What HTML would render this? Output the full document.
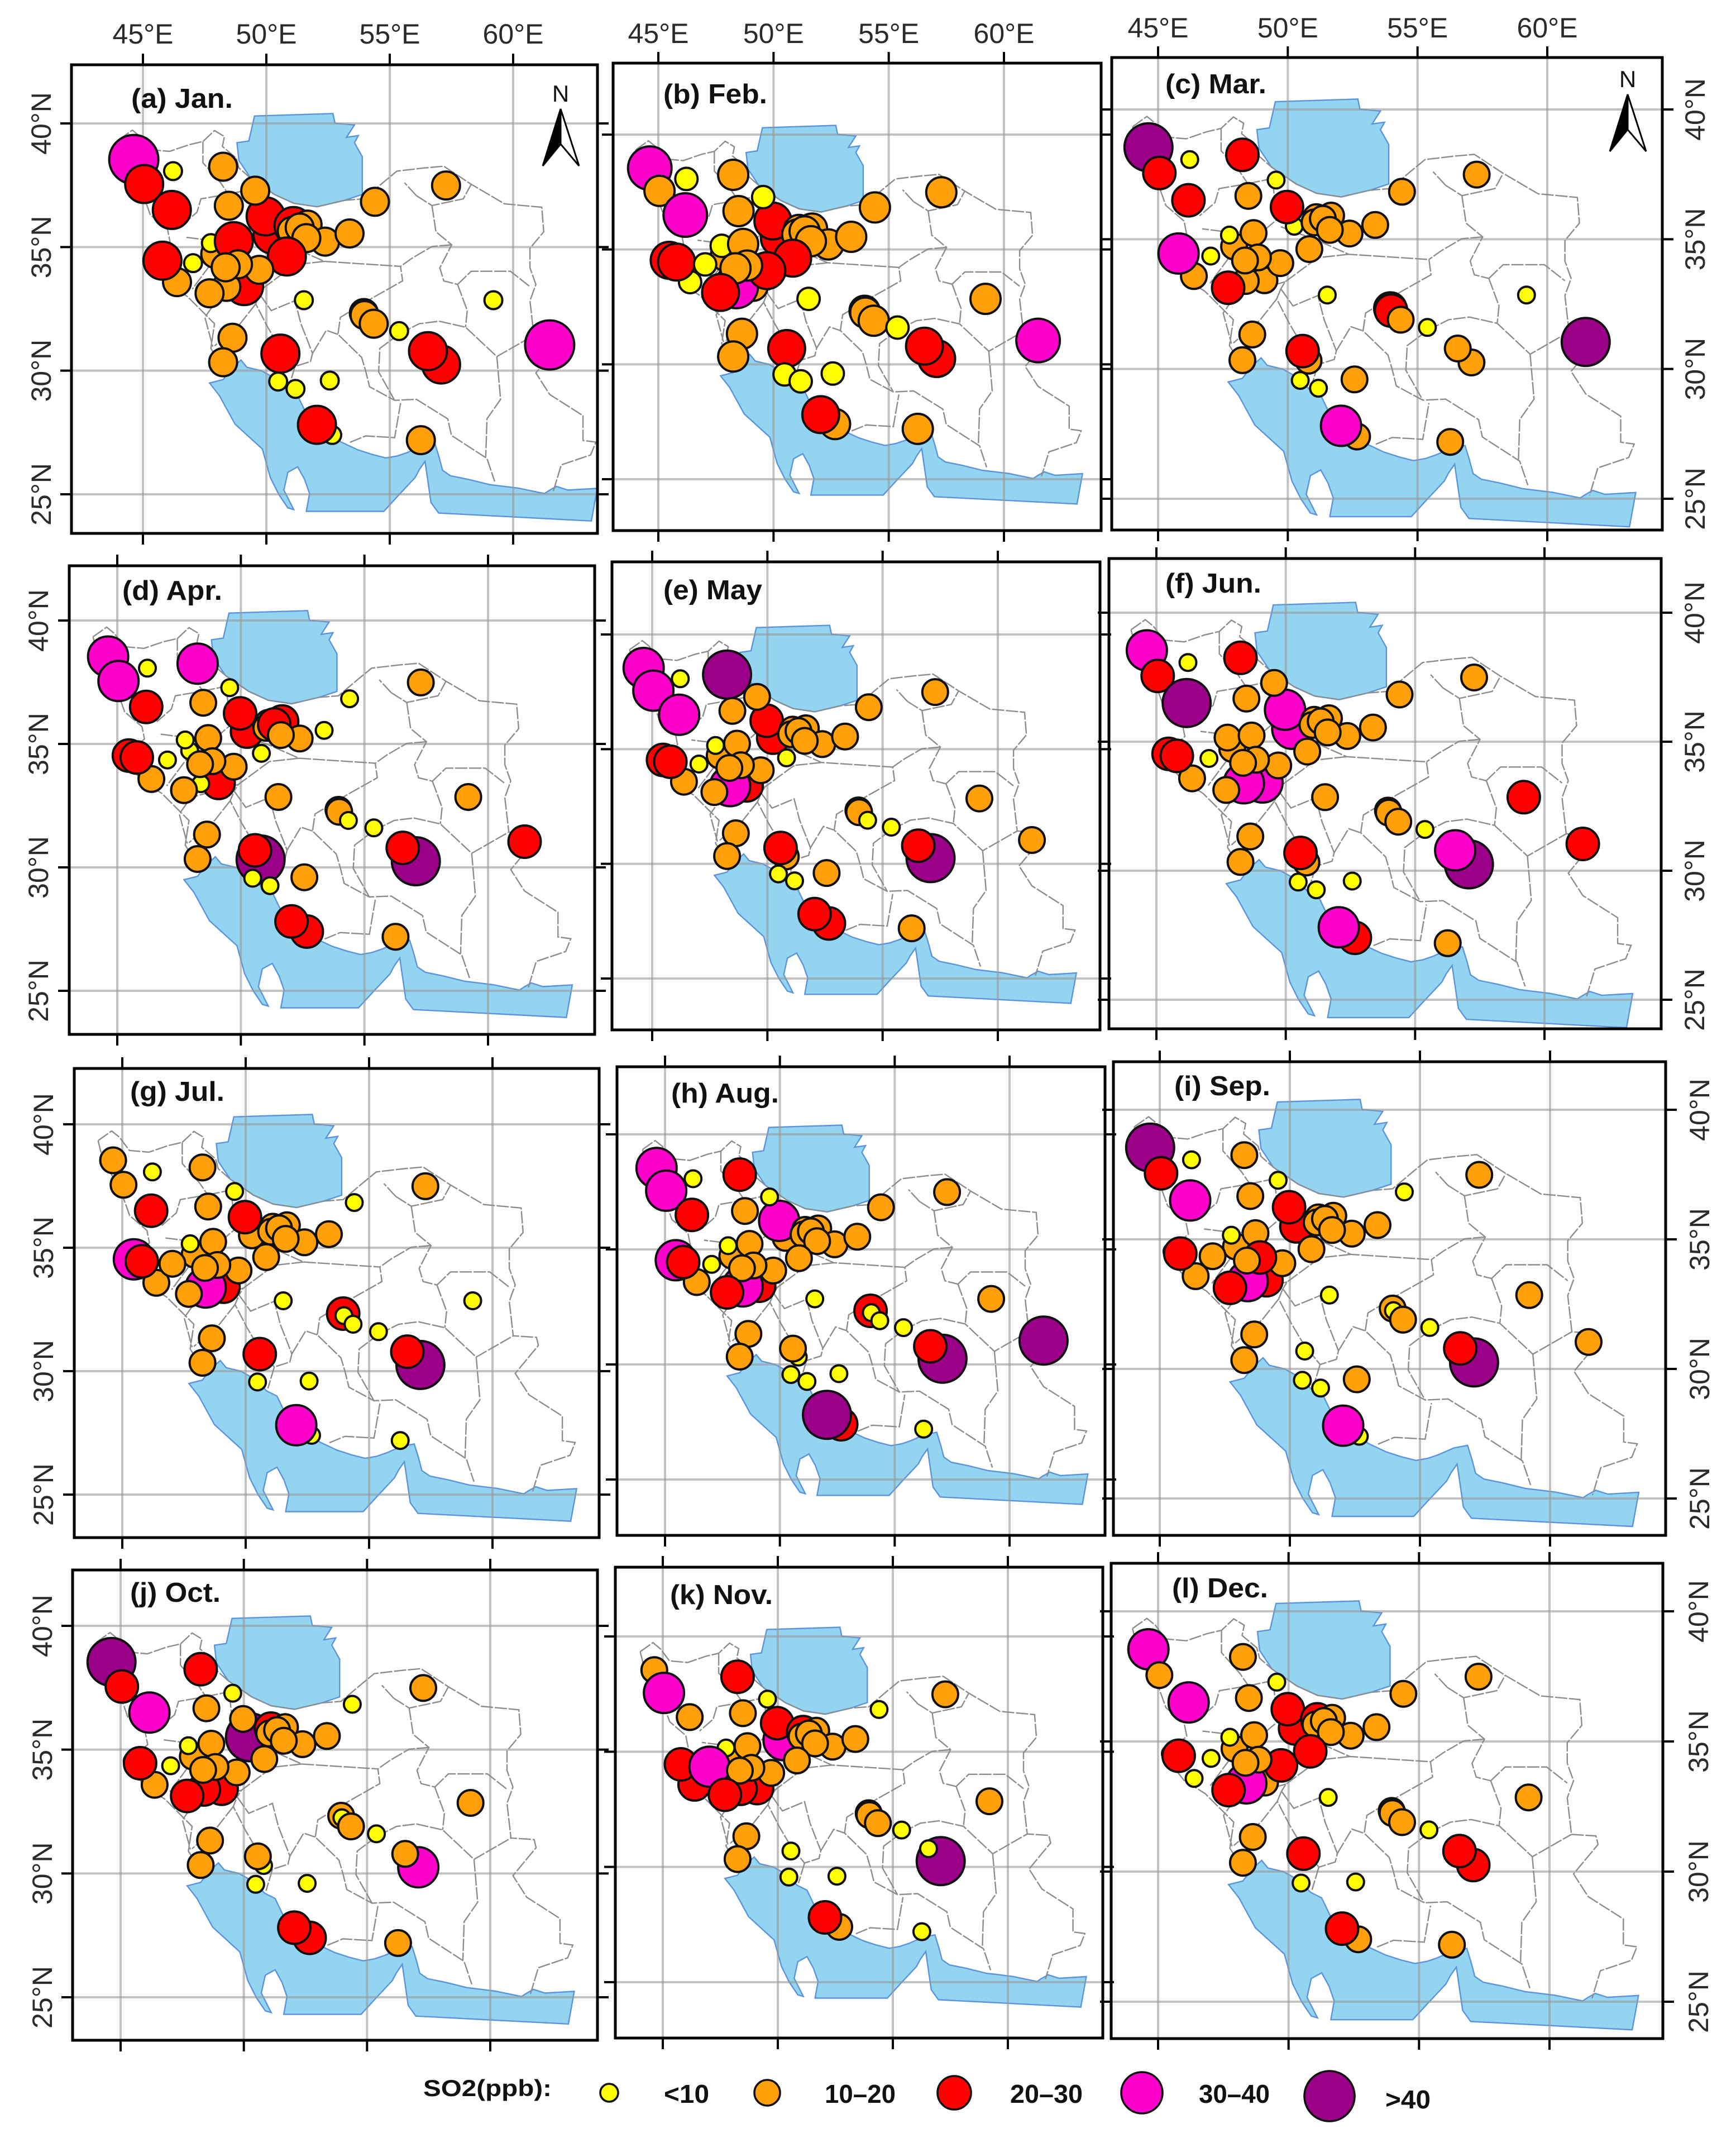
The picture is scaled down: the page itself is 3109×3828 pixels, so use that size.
<!DOCTYPE html>
<html lang="en">
<head>
<meta charset="utf-8">
<title>Monthly SO2 concentrations over Iran</title>
<style>
html,body{margin:0;padding:0;background:#fff}
svg{display:block}
text{font-family:"Liberation Sans",sans-serif}
</style>
</head>
<body>
<svg id="figure" xmlns="http://www.w3.org/2000/svg" width="3109" height="3828" viewBox="0 0 3109 3828">
<rect x="0" y="0" width="3109" height="3828" fill="#ffffff"/>
<g id="panels"></g>
<g id="legend"></g>
</svg>
<script>
// ---- chart data ----
const lonTicks = [45, 50, 55, 60];
const latTicks = [40, 35, 30, 25];
const lonTickLabels = ['45°E', '50°E', '55°E', '60°E'];
const latTickLabels = ['40°N', '35°N', '30°N', '25°N'];
const panelTitles = ['(a) Jan.', '(b) Feb.', '(c) Mar.', '(d) Apr.', '(e) May', '(f) Jun.', '(g) Jul.', '(h) Aug.', '(i) Sep.', '(j) Oct.', '(k) Nov.', '(l) Dec.'];
const legendLabels = ['<10', '10–20', '20–30', '30–40', '>40'];
const classUpperBounds = [10, 20, 30, 40, Infinity];

const stationLon = [44.63,45.05,46.22,48.25,46.17,48.48,50.25,49.97,49.55,51.1,
 51.67,51.03,51.35,52.38,51.62,53.37,54.4,57.28,47.93,47.75,
 48.68,50.83,45.47,46.38,45.79,47.03,49.1,48.38,49.71,48.85,
 48.35,47.7,51.52,59.2,53.95,53.98,54.35,55.38,61.48,48.63,
 48.25,50.8,50.57,57.08,56.55,50.48,51.18,52.57,52.67,52.05,
 56.26];
const stationLat = [38.54,37.55,38.07,38.25,36.5,36.67,35.5,36.24,37.28,35.85,
 35.91,35.65,35.79,35.22,35.36,35.55,36.83,37.49,34.72,35.16,
 35.24,34.62,34.53,33.58,34.45,34.35,33.42,33.39,34.08,34.3,
 34.18,33.13,32.85,32.85,32.33,32.25,31.9,31.6,31.04,31.33,
 30.34,30.32,30.69,30.25,30.79,29.56,29.26,29.6,27.4,27.81,
 27.19];

// SO2 (ppb) class mid-points per station
const janSO2 = [35,25,5,15,25,15,25,25,15,25, 15,15,15,15,15,15,15,15,15,5, 25,25,5,15,25,5,25,15,15,15, 15,15,5,5,15,15,15,5,35,15, 15,null,25,25,25,5,5,5,5,25, 15];
const febSO2 = [35,15,5,15,35,15,25,25,5,15, 15,15,15,15,15,15,15,15,15,5, 15,25,25,5,25,5,15,35,25,15, 15,25,5,15,15,15,15,5,35,15, 15,null,25,25,25,5,5,5,15,25, 15];
const marSO2 = [45,25,5,25,25,15,5,25,5,15, 15,15,15,15,15,15,15,15,15,5, 15,15,5,15,35,5,15,15,15,15, 15,25,5,5,25,25,15,5,45,15, 15,15,25,15,15,5,5,15,15,35, 15];
const aprSO2 = [35,35,5,35,25,15,25,25,5,15, 25,15,25,15,15,5,5,15,5,5, 15,5,25,15,25,5,25,5,15,15, 15,15,15,15,15,15,5,5,25,15, 15,45,25,45,25,5,5,15,25,25, 15];
const maySO2 = [35,35,5,45,35,15,25,25,15,15, 15,15,15,15,15,15,15,15,15,5, 15,5,25,15,25,5,25,35,15,15, 15,15,null,15,15,15,5,5,15,15, 15,15,25,45,25,5,5,15,25,25, 15];
const junSO2 = [35,25,5,25,45,15,35,35,15,15, 15,15,15,15,15,15,15,15,15,15, 15,15,25,15,25,5,35,35,15,15, 15,15,15,25,15,15,15,5,25,15, 15,15,25,45,35,5,5,5,25,35, 15];
const julSO2 = [15,15,5,15,25,15,15,25,5,15, 15,15,15,15,15,15,5,15,15,5, 15,15,35,15,25,15,25,35,15,15, 15,15,5,5,25,5,5,5,null,15, 15,null,25,45,25,5,null,5,5,35, 5];
const augSO2 = [35,35,5,25,25,15,15,35,5,15, 15,15,15,15,15,15,15,15,15,5, 15,15,35,15,25,5,25,35,15,15, 15,25,5,15,25,5,5,5,45,15, 15,5,15,45,25,5,5,5,25,45, 5];
const sepSO2 = [45,25,5,15,35,15,25,25,5,15, 15,15,15,15,15,15,5,15,15,5, 15,15,5,15,25,15,25,35,15,25, 15,25,5,15,15,5,15,5,15,15, 15,null,5,45,25,5,5,15,5,35, null];
const octSO2 = [45,25,null,25,35,15,45,15,5,25, 15,15,15,15,15,15,5,15,15,5, 15,15,5,15,25,5,25,25,15,15, 15,25,null,15,15,5,15,5,null,15, 15,5,15,35,15,5,null,5,25,25, 15];
const novSO2 = [15,35,null,25,15,15,35,25,5,25, 15,15,15,15,15,15,5,15,15,5, 15,15,5,25,25,35,25,25,15,15, 15,25,null,15,15,15,15,5,null,15, 15,null,5,45,5,5,null,5,15,25, 5];
const decSO2 = [35,15,null,15,35,15,25,25,5,25, 15,15,15,15,15,15,15,15,15,5, 15,25,5,5,25,5,15,35,25,15, 15,25,5,15,15,15,15,5,null,15, 15,null,25,25,25,5,null,5,15,25, 15];
const monthlySO2 = [janSO2, febSO2, marSO2, aprSO2, maySO2, junSO2, julSO2, augSO2, sepSO2, octSO2, novSO2, decSO2];

// ---- base map geography (lon, lat) ----
const seaSouthGeo = [[47.7,29.5],[48.25,29.64],[48.6,30.1],[48.97,30.43],[49.21,30.14],[49.8,30.0],[50.32,29.71],[50.85,29.2],[51.27,28.99],[51.6,28.3],[51.9,27.84],[52.5,27.5],[53.02,27.12],[53.7,26.8],[54.29,26.61],[54.84,26.47],[55.3,26.55],[55.71,26.69],[56.3,26.95],[56.83,27.05],[57.0,26.5],[57.14,25.97],[57.46,25.75],[58.2,25.6],[59.05,25.39],[60.2,25.25],[61.27,25.03],[61.45,25.15],[61.75,25.32],[62.22,25.17],[63.41,25.24],[63.17,23.92],[56.98,24.24],[56.67,24.67],[56.43,26.33],[56.2,26.0],[56.03,25.68],[55.3,24.9],[54.76,24.31],[51.62,24.31],[51.75,25.03],[51.55,25.6],[51.27,26.11],[50.87,25.89],[50.71,25.17],[51.11,24.38],[50.87,24.45],[50.5,25.0],[50.16,25.68],[49.84,26.83],[48.73,27.84],[48.1,28.99]];
const caspianGeo = [[49.52,40.3],[52.7,40.4],[52.78,40.01],[53.57,39.94],[53.25,39.44],[53.73,39.51],[53.57,39.22],[53.89,38.65],[53.89,37.13],[53.17,36.89],[52.06,36.63],[51.11,36.77],[50.32,37.13],[49.37,37.78],[48.89,38.5],[48.81,39.22],[49.29,39.29]];
const iranOutlineGeo = [[44.02,39.34],[44.57,39.73],[44.89,39.47],[45.29,38.94],[46.08,38.87],[46.87,39.14],[47.43,39.27],[47.9,39.71],[48.3,39.47],[48.22,39.07],[48.78,38.6],[48.89,38.2],[49.37,37.78],[50.32,37.13],[51.11,36.77],[52.06,36.63],[53.17,36.89],[53.95,36.95],[54.73,37.61],[55.29,38.07],[56.4,38.2],[57.19,38.27],[58.3,37.54],[59.65,36.75],[61.16,36.61],[61.24,35.62],[60.68,34.95],[60.68,34.16],[60.92,33.49],[60.68,32.83],[60.84,31.43],[61.78,31.37],[61.86,31.04],[60.92,29.91],[61.48,29.04],[62.83,28.18],[62.83,27.18],[63.35,27.11],[63.14,26.59],[61.95,26.19],[61.63,25.13]];
const iranWestGeo = [[44.02,39.34],[44.2,38.6],[44.6,37.9],[45.05,37.0],[45.3,36.3],[46.0,35.7],[46.1,35.2],[45.5,34.7],[45.6,34.0],[46.0,33.5],[46.8,33.0],[47.4,32.4],[47.9,31.9],[47.75,30.9],[48.0,30.5],[48.6,30.1]];
const provinceLinesGeo = [
 [[47.43,39.27],[47.43,38.41],[48.14,37.61],[48.46,37.14],[47.35,36.95],[47.19,36.41],[46.6,35.9]],
 [[48.46,37.14],[49.41,37.34],[49.57,35.75],[48.94,35.22],[47.51,35.3],[46.7,35.4]],
 [[49.73,35.48],[51.16,34.95],[52.35,34.42],[55.44,34.22],[55.52,33.63],[54.33,32.96],[53.0,32.16],[52.9,31.47],[53.86,30.54],[54.02,30.0],[54.18,29.35],[55.2,28.8],[56.08,28.84],[57.35,28.05],[57.5,27.38],[58.94,26.45],[59.25,25.52]],
 [[57.75,33.49],[58.3,34.02],[59.89,34.02],[60.68,33.4]],
 [[55.4,31.5],[56.2,31.9],[57.0,32.0],[58.07,31.76],[59.34,30.57],[60.84,31.43]],
 [[57.75,33.49],[58.14,32.43],[58.07,31.76]],
 [[59.34,30.57],[59.49,28.84],[58.94,28.05],[58.89,26.5]],
 [[56.08,37.08],[56.71,36.68],[57.98,36.95],[58.3,37.54]],
 [[56.08,37.08],[55.6,37.6]],
 [[56.71,36.68],[56.87,35.62],[57.51,35.09],[57.03,34.16],[57.19,33.63],[57.75,33.49]],
 [[57.51,35.09],[56.71,35.02],[55.92,34.56],[55.44,34.22]],
 [[49.73,33.09],[50.2,32.43],[51.16,32.83],[51.4,31.9],[51.87,30.7],[51.79,30.37],[51.16,30.17],[50.52,30.97],[50.05,31.77],[49.57,32.7],[49.73,33.09]],
 [[51.87,30.7],[52.43,31.63],[52.9,31.47]],
 [[55.4,31.5],[54.6,30.9],[54.55,29.95],[55.2,28.8]],
 [[53.39,27.1],[54.02,27.36],[55.2,27.29],[55.44,28.69]],
 [[51.16,34.29],[49.9,33.36],[49.73,33.09]],
 [[52.35,34.42],[51.16,34.29]],
 [[47.51,35.3],[47.83,34.42],[47.0,33.3]],
 [[49.9,33.36],[47.98,32.83],[47.51,32.16],[47.83,30.97]],
 [[49.57,32.7],[48.94,31.9],[47.9,31.0]],
 [[51.16,30.17],[50.9,29.3]]
];

// ---- layout (pixels) ----
const panelFrames = [
 {x0:128,x1:1070,y0:116,y1:955,lon45:256,lon60:919,lat40:221,lat25:885,top:78,left:91,right:0,tx:235,ty:193,tlen:182,arrow:[1004,195]},
 {x0:1098,x1:1972,y0:113,y1:950,lon45:1179,lon60:1798,lat40:241,lat25:858,top:77,left:0,right:0,tx:1188,ty:185,tlen:186},
 {x0:1991,x1:2977,y0:103,y1:949,lon45:2074,lon60:2771,lat40:196,lat25:893,top:67,left:0,right:3053,tx:2087,ty:167,tlen:181,arrow:[2915,169]},
 {x0:124,x1:1065,y0:1013,y1:1852,lon45:210,lon60:874,lat40:1111,lat25:1774,top:0,left:86,right:0,tx:219,ty:1074,tlen:179},
 {x0:1096,x1:1970,y0:1006,y1:1844,lon45:1168,lon60:1787,lat40:1136,lat25:1752,top:0,left:0,right:0,tx:1188,ty:1073,tlen:177},
 {x0:1986,x1:2975,y0:1000,y1:1842,lon45:2071,lon60:2766,lat40:1097,lat25:1790,top:0,left:0,right:3052,tx:2087,ty:1061,tlen:172},
 {x0:133,x1:1073,y0:1913,y1:2753,lon45:219,lon60:882,lat40:2013,lat25:2676,top:0,left:95,right:0,tx:233,ty:1971,tlen:169},
 {x0:1105,x1:1979,y0:1910,y1:2749,lon45:1191,lon60:1808,lat40:2031,lat25:2649,top:0,left:0,right:0,tx:1202,ty:1974,tlen:193},
 {x0:1994,x1:2983,y0:1901,y1:2749,lon45:2077,lon60:2776,lat40:1987,lat25:2683,top:0,left:0,right:3061,tx:2103,ty:1961,tlen:172},
 {x0:130,x1:1070,y0:2811,y1:3653,lon45:216,lon60:878,lat40:2911,lat25:3576,top:0,left:93,right:0,tx:233,ty:2868,tlen:162},
 {x0:1102,x1:1975,y0:2806,y1:3649,lon45:1187,lon60:1805,lat40:2930,lat25:3549,top:0,left:0,right:0,tx:1200,ty:2872,tlen:184},
 {x0:1990,x1:2978,y0:2799,y1:3650,lon45:2074,lon60:2775,lat40:2885,lat25:3584,top:0,left:0,right:3059,tx:2099,ty:2860,tlen:172}
];
const classColors = ['#ffff00', '#ff9f0a', '#ff0000', '#ff00cc', '#9b0088'];
const radiiJan = [16, 25, 34, 44, 44];
const radiiFeb = [20, 27, 33, 39, 44];
const radiiOther = [15, 23, 29, 36, 43];
const SVG_NS = 'http://www.w3.org/2000/svg';

function make(tag, parent, attrs, text) {
  const el = document.createElementNS(SVG_NS, tag);
  for (const k in attrs) el.setAttribute(k, attrs[k]);
  if (text !== undefined) el.textContent = text;
  parent.appendChild(el);
  return el;
}
function classOf(v) {
  for (let i = 0; i < classUpperBounds.length; i++) if (v < classUpperBounds[i]) return i;
  return classUpperBounds.length - 1;
}

const panelsRoot = document.getElementById('panels');
panelFrames.forEach(function (f, p) {
  const letter = panelTitles[p].charAt(1);
  const xScale = function (lon) { return f.lon45 + (lon - 45) * (f.lon60 - f.lon45) / 15; };
  const yScale = function (lat) { return f.lat40 + (40 - lat) * (f.lat25 - f.lat40) / 15; };
  const toPoints = function (arr) { return arr.map(function (c) { return xScale(c[0]).toFixed(1) + ',' + yScale(c[1]).toFixed(1); }).join(' '); };

  const g = make('g', panelsRoot, {});
  
  

  const defs = make('defs', g, {});
  const clip = make('clipPath', defs, { id: 'clip-' + letter });
  make('rect', clip, { x: f.x0, y: f.y0, width: f.x1 - f.x0, height: f.y1 - f.y0 });

  const map = make('g', g, { 'clip-path': 'url(#clip-' + letter + ')' });
  
  

  const gulf = make('polygon', map, { points: toPoints(seaSouthGeo), fill: '#93d4f0', stroke: '#5b93dc', 'stroke-width': 2.4 });
  
  
  const caspian = make('polygon', map, { points: toPoints(caspianGeo), fill: '#93d4f0', stroke: '#5b93dc', 'stroke-width': 2.4 });
  
  

  lonTicks.forEach(function (lon) {
    const line = make('line', map, { x1: xScale(lon), x2: xScale(lon), y1: f.y0, y2: f.y1, stroke: '#9a9a9a', 'stroke-opacity': 0.6, 'stroke-width': 4 });
    
    
  });
  latTicks.forEach(function (lat) {
    const line = make('line', map, { x1: f.x0, x2: f.x1, y1: yScale(lat), y2: yScale(lat), stroke: '#9a9a9a', 'stroke-opacity': 0.6, 'stroke-width': 4 });
    
    
  });

  const outlines = [iranOutlineGeo, iranWestGeo].concat(provinceLinesGeo);
  outlines.forEach(function (lineGeo) {
    const border = make('polyline', map, { points: toPoints(lineGeo), fill: 'none', stroke: '#8c8c8c', 'stroke-width': 2.4, 'stroke-dasharray': '22 3' });
    
    
  });

  const radii = p === 0 ? radiiJan : (p === 1 ? radiiFeb : radiiOther);
  monthlySO2[p].forEach(function (v, i) {
    if (v === null) return;
    const c = classOf(v);
    const dot = make('circle', map, { cx: xScale(stationLon[i]).toFixed(1), cy: yScale(stationLat[i]).toFixed(1), r: radii[c], fill: classColors[c], stroke: '#101010', 'stroke-width': 4 });
    
    
  });

  const box = make('rect', g, { x: f.x0, y: f.y0, width: f.x1 - f.x0, height: f.y1 - f.y0, fill: 'none', stroke: '#000', 'stroke-width': 5 });
  
  

  const tickLen = 20;
  lonTicks.forEach(function (lon, i) {
    const t1 = make('line', g, { x1: xScale(lon), x2: xScale(lon), y1: f.y0 - tickLen, y2: f.y0, stroke: '#000', 'stroke-width': 4 });
    
    
    const t2 = make('line', g, { x1: xScale(lon), x2: xScale(lon), y1: f.y1, y2: f.y1 + tickLen, stroke: '#000', 'stroke-width': 4 });
    
    
    if (f.top) {
      const lab = make('text', g, { x: xScale(lon), y: f.top, 'text-anchor': 'middle', 'font-size': 50, fill: '#2a2a2a' }, lonTickLabels[i]);
      
      
    }
  });
  latTicks.forEach(function (lat, i) {
    const t1 = make('line', g, { x1: f.x0 - tickLen, x2: f.x0, y1: yScale(lat), y2: yScale(lat), stroke: '#000', 'stroke-width': 4 });
    
    
    const t2 = make('line', g, { x1: f.x1, x2: f.x1 + tickLen, y1: yScale(lat), y2: yScale(lat), stroke: '#000', 'stroke-width': 4 });
    
    
    const lx = f.left || f.right;
    if (lx) {
      const lab = make('text', g, { x: lx, y: yScale(lat), 'text-anchor': 'middle', 'font-size': 50, fill: '#2a2a2a', transform: 'rotate(-90 ' + lx + ' ' + yScale(lat) + ')' }, latTickLabels[i]);
      
      
    }
  });

  const title = make('text', g, { x: f.tx, y: f.ty, 'font-size': 49, 'font-weight': 'bold', fill: '#111', textLength: f.tlen, lengthAdjust: 'spacingAndGlyphs' }, panelTitles[p]);
  
  

  if (f.arrow) {
    const ax = f.arrow[0], ay = f.arrow[1];
    const arrow = make('g', g, {});
    
    
    make('text', arrow, { x: ax, y: ay - 13, 'text-anchor': 'middle', 'font-size': 42, fill: '#111' }, 'N');
    make('polygon', arrow, { points: ax + ',' + ay + ' ' + (ax + 33) + ',' + (ay + 102) + ' ' + ax + ',' + (ay + 63), fill: '#fff', stroke: '#000', 'stroke-width': 3 });
    make('polygon', arrow, { points: ax + ',' + ay + ' ' + (ax - 32) + ',' + (ay + 102) + ' ' + ax + ',' + (ay + 63), fill: '#000', stroke: '#000', 'stroke-width': 3 });
  }
});

// ---- legend ----
const legendRoot = document.getElementById('legend');
const legendTitle = make('text', legendRoot, { x: 758, y: 3753, 'font-size': 42, 'font-weight': 'bold', fill: '#111', textLength: 230, lengthAdjust: 'spacingAndGlyphs' }, 'SO2(ppb):');


const legendSwatchX = [1091, 1374, 1709, 2045, 2381];
const legendSwatchY = [3747, 3747, 3747, 3747, 3753];
const legendSwatchR = [16, 23, 30, 37, 45];
const legendLabelX = [1189, 1477, 1809, 2147, 2481];
const legendLabelY = [3765, 3765, 3765, 3765, 3775];
const legendLabelW = [81, 127, 130, 127, 81];
legendLabels.forEach(function (label, i) {
  const sw = make('circle', legendRoot, { cx: legendSwatchX[i], cy: legendSwatchY[i], r: legendSwatchR[i], fill: classColors[i], stroke: '#101010', 'stroke-width': 3.6 });
  
  
  const tx = make('text', legendRoot, { x: legendLabelX[i], y: legendLabelY[i], 'font-size': 46, 'font-weight': 'bold', fill: '#111', textLength: legendLabelW[i], lengthAdjust: 'spacingAndGlyphs' }, label);
  
  
});
</script>
</body>
</html>
